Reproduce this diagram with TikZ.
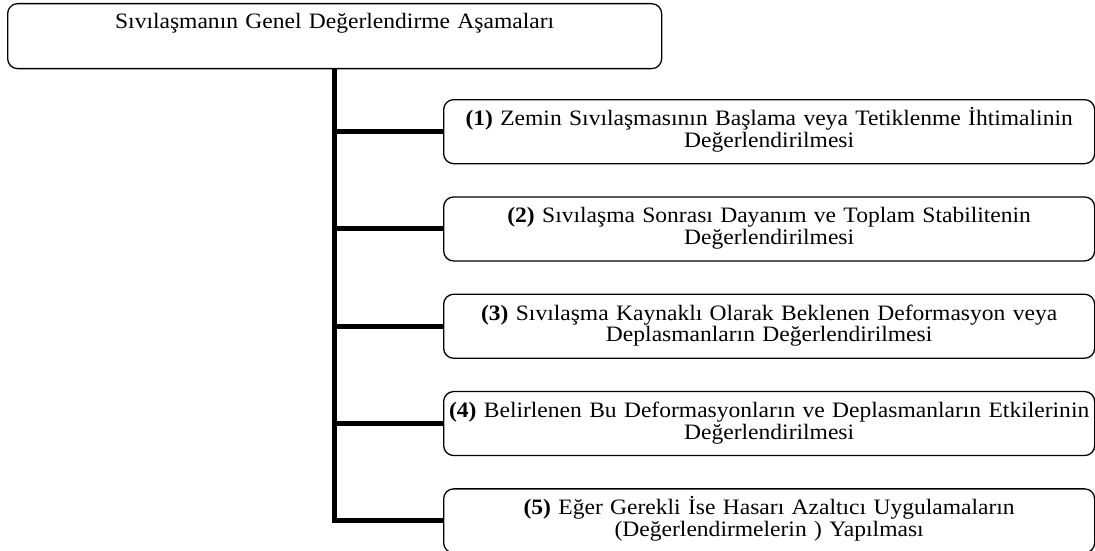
\documentclass[tikz,border=0pt]{standalone}
\usepackage{fontspec}
\setmainfont{Liberation Serif}
\newfontfamily\stagefont{Liberation Serif}[FakeStretch=1.07]
\usetikzlibrary{positioning}

\begin{document}
\begin{tikzpicture}[x=1pt,y=-1pt,
  stage/.style={draw, line width=1.3pt, rounded corners=10pt, text width=645pt, inner xsep=3pt, inner ysep=0pt,
    minimum height=64pt, text height=26pt, text depth=38pt, align=center,
    font=\stagefont\fontsize{22}{21.5}\selectfont},
  trunk/.style={line width=5pt}]
\useasboundingbox (0,0) rectangle (1095,551);

\node[stage, text width=648pt, anchor=north west, text height=25pt, text depth=40pt] (head) at (7,3)
  {Sıvılaşmanın Genel Değerlendirme Aşamaları};

\node[stage, anchor=north west] (s1) at (443,99)
  {\textbf{(1)} Zemin Sıvılaşmasının Başlama veya Tetiklenme İhtimalinin\\Değerlendirilmesi};
\node[stage, below=32pt of s1] (s2)
  {\textbf{(2)} Sıvılaşma Sonrası Dayanım ve Toplam Stabilitenin\\Değerlendirilmesi};
\node[stage, below=32pt of s2] (s3)
  {\textbf{(3)} Sıvılaşma Kaynaklı Olarak Beklenen Deformasyon veya\\Deplasmanların Değerlendirilmesi};
\node[stage, below=32pt of s3] (s4)
  {\textbf{(4)} Belirlenen Bu Deformasyonların ve Deplasmanların Etkilerinin\\Değerlendirilmesi};
\node[stage, below=32pt of s4] (s5)
  {\textbf{(5)} Eğer Gerekli İse Hasarı Azaltıcı Uygulamaların\\(Değerlendirmelerin ) Yapılması};

% trunk and branches
\draw[trunk] (head.south) -- (head.south |- s5.west) -- (s5.west);
\foreach \s in {s1,s2,s3,s4}
  \draw[trunk] (head.south |- \s.west) -- (\s.west);

\end{tikzpicture}
\end{document}
